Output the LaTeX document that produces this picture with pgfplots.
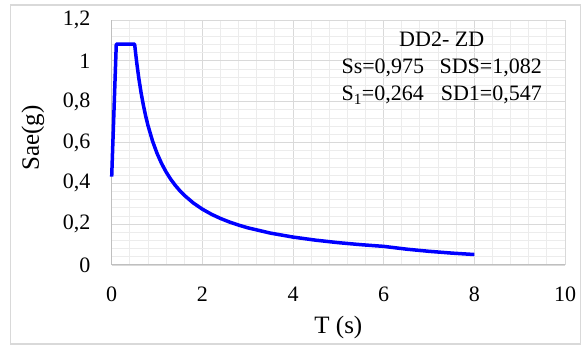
\documentclass[border=0pt]{standalone}
\usepackage{fontspec}
\setmainfont{Liberation Serif}
\usepackage{pgfplots}
\pgfplotsset{compat=1.18}
\definecolor{majgrid}{RGB}{217,217,217}
\definecolor{mingrid}{RGB}{236,236,236}
\definecolor{axline}{RGB}{191,191,191}
\definecolor{frame}{RGB}{217,217,217}
\begin{document}
\fontsize{22}{27}\selectfont
\begin{tikzpicture}[x=1pt,y=1pt]
\useasboundingbox (-111.7,-85) rectangle (469.3,265);
\draw[frame, line width=1.2pt] (-101.2,-79) rectangle (468.8,260);
\begin{axis}[
  at={(0,0)}, anchor=south west,
  scale only axis, width=453.3pt, height=245pt,
  xmin=0, xmax=10, ymin=0, ymax=1.2,
  xtick={0,2,...,10}, ytick={0,0.2,0.4,0.6,0.8,1,1.2},
  minor x tick num=4, minor y tick num=4,
  grid=both,
  major grid style={majgrid, line width=0.9pt},
  minor grid style={mingrid, line width=0.9pt},
  axis lines*=left,
  axis line style={axline, line width=1pt},
  major tick length=0pt, minor tick length=0pt,
  /pgf/number format/assume math mode=true,
  /pgf/number format/use comma,
  tick label style={font=\fontsize{22}{27}\selectfont, inner sep=0pt},
  yticklabel style={anchor=east, xshift=-21pt},
  xticklabel style={anchor=north, yshift=-22pt},
  xlabel={T (s)}, ylabel={Sae(g)},
  label style={font=\fontsize{25}{30}\selectfont},
  xlabel style={at={(axis description cs:0.5,0)}, anchor=center, yshift=-62pt},
  ylabel style={at={(axis description cs:0,0.5)}, anchor=center, yshift=78.7pt, xshift=4.5pt},
  clip=false,
]
\addplot[blue, line width=3.5pt, line join=round] coordinates {
(0,0.4328) (0.1011,1.082) (0.5055,1.082)
(0.55,0.9945) (0.6,0.9117) (0.65,0.8415) (0.7,0.7814) (0.75,0.7293)
(0.8,0.6838) (0.9,0.6078) (1.0,0.547) (1.1,0.4973) (1.2,0.4558)
(1.3,0.4208) (1.4,0.3907) (1.5,0.3647) (1.6,0.3419) (1.8,0.3039)
(2.0,0.2735) (2.2,0.2486) (2.4,0.2279) (2.6,0.2104) (2.8,0.1954)
(3.0,0.1823) (3.5,0.1563) (4.0,0.1368) (4.5,0.1216) (5.0,0.1094)
(5.5,0.0995) (6.0,0.0912) (6.5,0.0777) (7.0,0.0670) (7.5,0.0583)
(8.0,0.0513)
};
\end{axis}
\node at (330,196.5) {\begin{tabular}{@{}l@{\hspace{0.7em}}r@{}}
\multicolumn{2}{c}{DD2- ZD}\\
Ss=0,975 & SDS=1,082\\
S\textsubscript{1}=0,264 & SD1=0,547
\end{tabular}};
\end{tikzpicture}
\end{document}
